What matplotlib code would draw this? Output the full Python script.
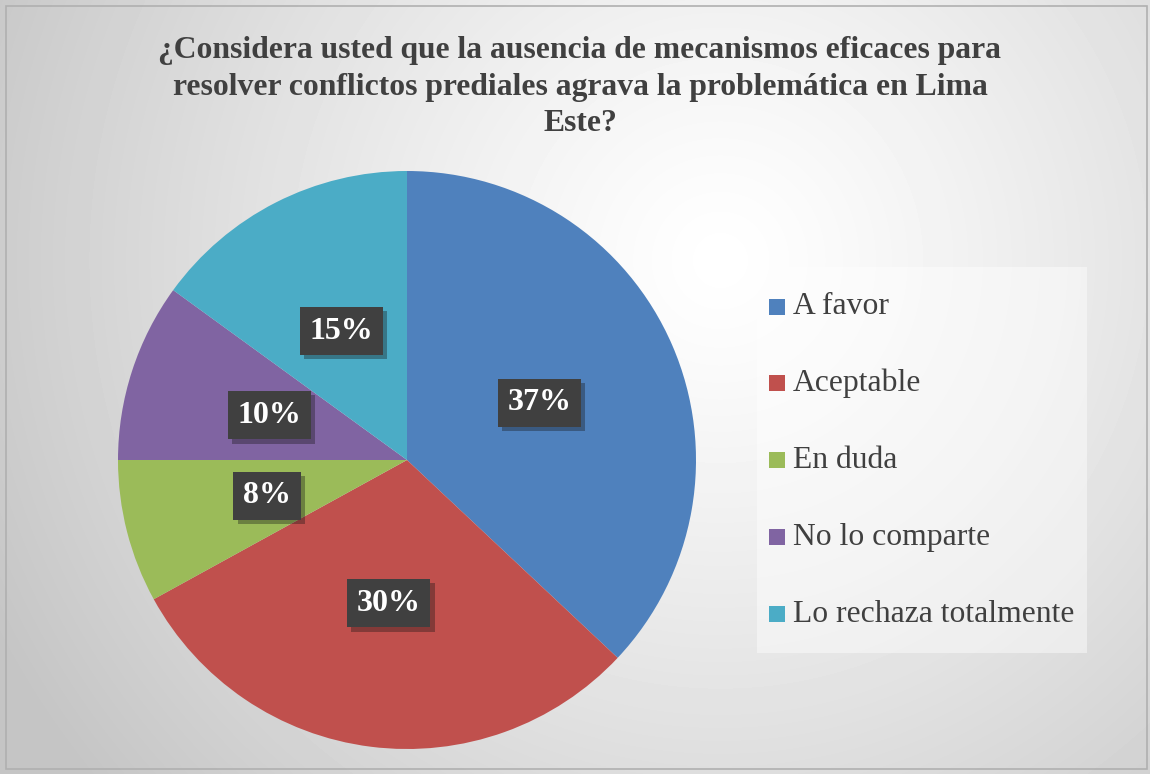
import numpy as np
import matplotlib.pyplot as plt
import matplotlib.patheffects as pe
from matplotlib.patches import Rectangle

# --- DATA ---
categories = ["A favor", "Aceptable", "En duda", "No lo comparte", "Lo rechaza totalmente"]
percentages = [37, 30, 8, 10, 15]
colors = ["#4F81BD", "#C0504D", "#9BBB59", "#8064A2", "#4BACC6"]
title = ("¿Considera usted que la ausencia de mecanismos eficaces para\n"
         "resolver conflictos prediales agrava la problemática en Lima\n"
         "Este?")

W, H = 1150, 774
fig = plt.figure(figsize=(W / 100, H / 100), dpi=100)

# --- BACKGROUND (radial gradient) ---
bg = fig.add_axes([0, 0, 1, 1])
yy, xx = np.mgrid[0:H, 0:W]
dist = np.hypot(xx - 720, yy - 260) / 820.0
shade = 1.0 - 0.23 * np.clip(dist, 0, 1) ** 1.2
bg.imshow(shade, cmap="gray", vmin=0, vmax=1, extent=[0, W, H, 0], aspect="auto")
bg.add_patch(Rectangle((6, 6), W - 9, H - 11, fill=False, edgecolor="#b0b0b0", lw=1.2))
# legend panel
bg.add_patch(Rectangle((757, 267), 330, 386, facecolor="white", alpha=0.45, edgecolor="none"))
bg.set_xlim(0, W)
bg.set_ylim(H, 0)
bg.axis("off")

fig.text(580 / W, 1 - 87 / H, title, ha="center", va="center",
         fontsize=22.8, fontweight="bold", family="Liberation Serif",
         color="#404040", linespacing=1.32)

# --- PIE ---
cx, cy, R = 407, 460, 289
ax = fig.add_axes([(cx - R) / W, (H - cy - R) / H, 2 * R / W, 2 * R / H])
wedges, texts, autotexts = ax.pie(
    percentages, colors=colors, startangle=90, counterclock=False,
    autopct="%.0f%%", pctdistance=0.5,
    wedgeprops=dict(edgecolor="none"),
    textprops=dict(color="white", fontsize=23, fontweight="bold", family="Liberation Serif"),
)
ax.set_xlim(-1, 1)
ax.set_ylim(-1, 1)
ax.set_aspect("equal")
for t in autotexts:
    t.set_bbox(dict(boxstyle="square,pad=0.3", facecolor="#404040", edgecolor="none"))
    t.get_bbox_patch().set_path_effects(
        [pe.SimplePatchShadow(offset=(3, -3), alpha=0.35), pe.Normal()])

# --- LEGEND ---
row_y = [307, 383, 460, 537, 614]
for name, col, y in zip(categories, colors, row_y):
    bg.add_patch(Rectangle((769, y - 8), 16, 16, facecolor=col, edgecolor="none"))
    bg.text(793, y, name, ha="left", va="center", fontsize=22.8,
            family="Liberation Serif", color="#404040")

fig.savefig("out.png", dpi=100)
